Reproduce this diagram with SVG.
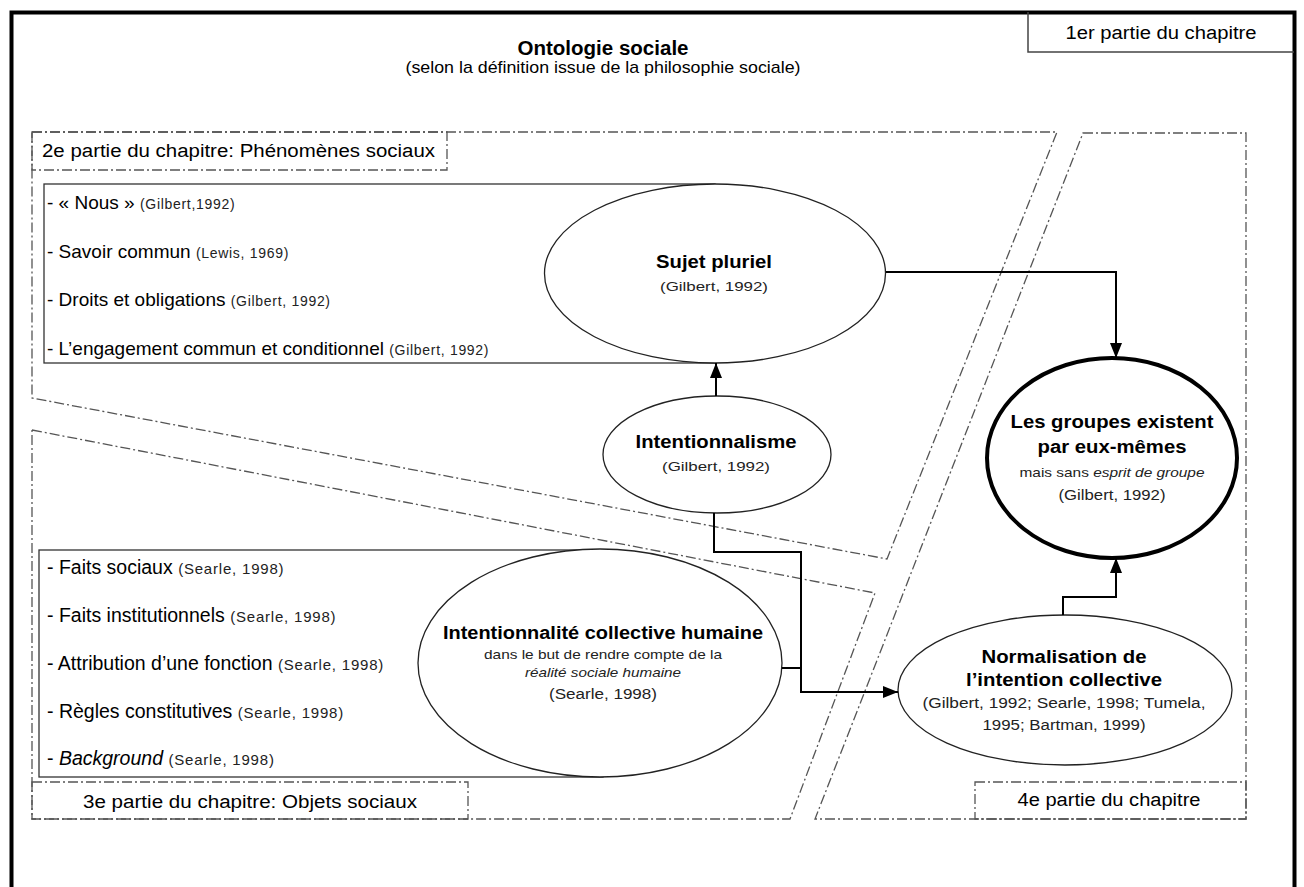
<svg xmlns="http://www.w3.org/2000/svg" width="1304" height="887" viewBox="0 0 1304 887">
<defs>
<style>
.t{font-family:"Liberation Sans",Arial,sans-serif;fill:#000}
.b{font-weight:bold}
.s{fill:#222}
.dd{fill:none;stroke:#555;stroke-width:1.3;stroke-dasharray:10 3 2 3}
.box{fill:#fff;stroke:#333;stroke-width:1.3}
.node{fill:#fff;stroke:#222;stroke-width:1.3}
.conn{fill:none;stroke:#000;stroke-width:2}
.l1{font-size:19px}
.l2{font-size:19.5px}
.c1{font-size:14px;letter-spacing:0.7px;fill:#222}
.c2{font-size:15px;letter-spacing:0.8px;fill:#222}
</style>
<marker id="arr" markerUnits="userSpaceOnUse" markerWidth="15" markerHeight="12" refX="15" refY="6" orient="auto">
<path d="M0,0 L15,6 L0,12 Z" fill="#000"/>
</marker>
</defs>
<rect x="0" y="0" width="1304" height="887" fill="#fff"/>
<rect x="11.5" y="12.5" width="1283" height="900" fill="none" stroke="#000" stroke-width="4"/>

<g id="header">
<path d="M1028,12 V52 H1294" fill="none" stroke="#444" stroke-width="1.5"/>
<text class="t" x="1161" y="39" font-size="18" text-anchor="middle" textLength="191" lengthAdjust="spacingAndGlyphs">1er partie du chapitre</text>
<text class="t b" x="603" y="55" font-size="20" text-anchor="middle" textLength="171" lengthAdjust="spacingAndGlyphs">Ontologie sociale</text>
<text class="t" x="603" y="73" font-size="17" text-anchor="middle" textLength="395" lengthAdjust="spacingAndGlyphs">(selon la définition issue de la philosophie sociale)</text>
</g>

<g id="regions">
<path class="dd" d="M32,132 H1057 L887,559 L32,398 Z"/>
<path class="dd" d="M32,430 L875,593 L790,819 H32 Z"/>
<path class="dd" d="M1083,133 H1246 V819 H815 Z"/>
<rect class="dd" x="32" y="132" width="415" height="38"/>
<rect class="dd" x="32" y="782" width="436" height="37"/>
<rect class="dd" x="975" y="782" width="271" height="37"/>
<text class="t" x="42" y="157" font-size="18" textLength="393" lengthAdjust="spacingAndGlyphs">2e partie du chapitre: Phénomènes sociaux</text>
<text class="t" x="250" y="808" font-size="18" text-anchor="middle" textLength="334" lengthAdjust="spacingAndGlyphs">3e partie du chapitre: Objets sociaux</text>
<text class="t" x="1109" y="806" font-size="18" text-anchor="middle" textLength="183" lengthAdjust="spacingAndGlyphs">4e partie du chapitre</text>
</g>

<g id="list-phenomenes">
<rect class="box" x="44" y="184" width="671" height="179"/>
<text class="t l1" x="47" y="209">- « Nous » <tspan class="c1">(Gilbert,1992)</tspan></text>
<text class="t l1" x="47" y="258">- Savoir commun <tspan class="c1">(Lewis, 1969)</tspan></text>
<text class="t l1" x="47" y="306">- Droits et obligations <tspan class="c1">(Gilbert, 1992)</tspan></text>
<text class="t l1" x="47" y="355">- L’engagement commun et conditionnel <tspan class="c1">(Gilbert, 1992)</tspan></text>
</g>

<g id="list-objets">
<rect class="box" x="39" y="550" width="564" height="227"/>
<text class="t l2" x="47" y="574">- Faits sociaux <tspan class="c2">(Searle, 1998)</tspan></text>
<text class="t l2" x="47" y="622">- Faits institutionnels <tspan class="c2">(Searle, 1998)</tspan></text>
<text class="t l2" x="47" y="670">- Attribution d’une fonction <tspan class="c2">(Searle, 1998)</tspan></text>
<text class="t l2" x="47" y="718">- Règles constitutives <tspan class="c2">(Searle, 1998)</tspan></text>
<text class="t l2" x="47" y="765">- <tspan font-style="italic">Background</tspan> <tspan class="c2">(Searle, 1998)</tspan></text>
</g>

<g id="sujet-pluriel">
<ellipse class="node" cx="715" cy="273.5" rx="170.5" ry="89.5"/>
<text class="t b" x="714" y="268" font-size="18" text-anchor="middle" textLength="116" lengthAdjust="spacingAndGlyphs">Sujet pluriel</text>
<text class="t s" x="714" y="291" font-size="13.5" text-anchor="middle" textLength="108" lengthAdjust="spacingAndGlyphs">(Gilbert, 1992)</text>
</g>

<g id="intentionnalisme">
<ellipse class="node" cx="717" cy="454.5" rx="114" ry="58.5"/>
<text class="t b" x="716" y="448" font-size="18" text-anchor="middle" textLength="161" lengthAdjust="spacingAndGlyphs">Intentionnalisme</text>
<text class="t s" x="716" y="471" font-size="13.5" text-anchor="middle" textLength="108" lengthAdjust="spacingAndGlyphs">(Gilbert, 1992)</text>
</g>

<g id="intentionnalite-collective">
<ellipse class="node" cx="600" cy="663" rx="182" ry="114"/>
<text class="t b" x="603" y="639" font-size="18" text-anchor="middle" textLength="320" lengthAdjust="spacingAndGlyphs">Intentionnalité collective humaine</text>
<text class="t s" x="603" y="659" font-size="13" text-anchor="middle" textLength="238" lengthAdjust="spacingAndGlyphs">dans le but de rendre compte de la</text>
<text class="t s" x="603" y="677" font-size="13" font-style="italic" text-anchor="middle" textLength="156" lengthAdjust="spacingAndGlyphs">réalité sociale humaine</text>
<text class="t s" x="603" y="699" font-size="14" text-anchor="middle" textLength="108" lengthAdjust="spacingAndGlyphs">(Searle, 1998)</text>
</g>

<g id="groupes">
<ellipse cx="1112" cy="458" rx="125" ry="100" fill="#fff" stroke="#000" stroke-width="4"/>
<text class="t b" x="1112" y="428" font-size="18" text-anchor="middle" textLength="203" lengthAdjust="spacingAndGlyphs">Les groupes existent</text>
<text class="t b" x="1112" y="453" font-size="18" text-anchor="middle" textLength="149" lengthAdjust="spacingAndGlyphs">par eux-mêmes</text>
<text class="t s" x="1112" y="477" font-size="13" text-anchor="middle" textLength="185" lengthAdjust="spacingAndGlyphs">mais sans <tspan font-style="italic">esprit de groupe</tspan></text>
<text class="t s" x="1112" y="500" font-size="14" text-anchor="middle" textLength="107" lengthAdjust="spacingAndGlyphs">(Gilbert, 1992)</text>
</g>

<g id="normalisation">
<ellipse class="node" cx="1065" cy="690" rx="167" ry="75"/>
<text class="t b" x="1064" y="663" font-size="18" text-anchor="middle" textLength="165" lengthAdjust="spacingAndGlyphs">Normalisation de</text>
<text class="t b" x="1064" y="686" font-size="18" text-anchor="middle" textLength="196" lengthAdjust="spacingAndGlyphs">l’intention collective</text>
<text class="t s" x="1064" y="708" font-size="14" text-anchor="middle" textLength="283" lengthAdjust="spacingAndGlyphs">(Gilbert, 1992; Searle, 1998; Tumela,</text>
<text class="t s" x="1064" y="730" font-size="14" text-anchor="middle" textLength="163" lengthAdjust="spacingAndGlyphs">1995; Bartman, 1999)</text>
</g>

<g id="connectors">
<path class="conn" d="M886,272 H1116 V358" marker-end="url(#arr)"/>
<path class="conn" d="M716,396 V363" marker-end="url(#arr)"/>
<path class="conn" d="M714,513 V552 H801 V692 H898" marker-end="url(#arr)"/>
<path class="conn" d="M782,668 H801"/>
<path class="conn" d="M1063,615 V597 H1116 V558" marker-end="url(#arr)"/>
</g>
</svg>
